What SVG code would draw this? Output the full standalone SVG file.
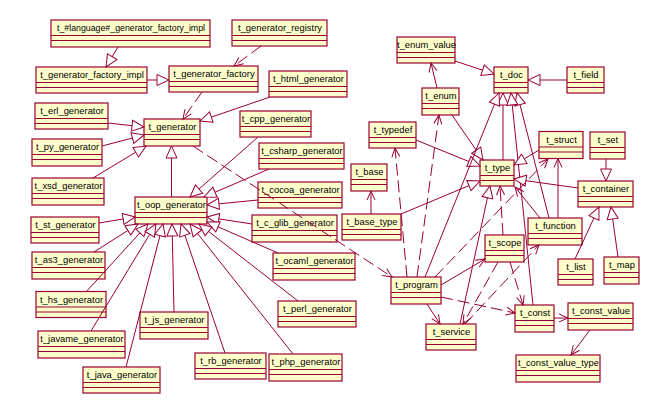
<svg xmlns="http://www.w3.org/2000/svg" width="671" height="414" viewBox="0 0 671 414">
<style>
.node rect{fill:#ffffcc;stroke:#990033;stroke-width:1.2}
.node path{fill:none;stroke:#990033;stroke-width:1.2}
.node text{font-family:"Liberation Sans",Arial,sans-serif;font-size:9.4px;fill:#000;text-anchor:middle}
#edges line{stroke:#990033;stroke-width:1;fill:none}
#edges .gen{marker-end:url(#tri)}
#edges .nav{marker-end:url(#arr)}
#edges .dep{stroke-dasharray:12 5;marker-end:url(#arr)}
</style>
<defs>
<marker id="tri" markerUnits="userSpaceOnUse" viewBox="-1 -1 15 13" markerWidth="15" markerHeight="13" refX="12" refY="5.5" orient="auto"><path d="M0,0 L12,5.5 L0,11 Z" fill="#fff" stroke="#990033" stroke-width="1" stroke-dasharray="none"/></marker>
<marker id="arr" markerUnits="userSpaceOnUse" viewBox="-1 -1 12 10" markerWidth="12" markerHeight="10" refX="9" refY="4" orient="auto"><path d="M0,0 L9,4 L0,8" fill="none" stroke="#990033" stroke-width="1" stroke-dasharray="none"/></marker>
</defs>
<rect width="671" height="414" fill="#fff"/>
<g id="nodes">
<g id="n_lang_impl" class="node"><rect x="51" y="20" width="159" height="27"/><path d="M51,35.5H210M51,40.5H210"/><text x="131" y="31" textLength="148" lengthAdjust="spacingAndGlyphs">t_#language#_generator_factory_impl</text></g>
<g id="n_registry" class="node"><rect x="232" y="20" width="95" height="26"/><path d="M232,35.5H327M232,40.5H327"/><text x="280" y="31">t_generator_registry</text></g>
<g id="n_factory_impl" class="node"><rect x="36" y="67" width="111" height="26"/><path d="M36,82.5H147M36,87.5H147"/><text x="92" y="78">t_generator_factory_impl</text></g>
<g id="n_factory" class="node"><rect x="169" y="66" width="89" height="26"/><path d="M169,81.5H258M169,86.5H258"/><text x="214" y="77">t_generator_factory</text></g>
<g id="n_html" class="node"><rect x="269" y="71" width="78" height="26"/><path d="M269,86.5H347M269,91.5H347"/><text x="308.5" y="82">t_html_generator</text></g>
<g id="n_erl" class="node"><rect x="35" y="103" width="73" height="26"/><path d="M35,118.5H108M35,123.5H108"/><text x="72" y="114">t_erl_generator</text></g>
<g id="n_generator" class="node"><rect x="144" y="119" width="56" height="27"/><path d="M144,134.5H200M144,139.5H200"/><text x="172.5" y="130">t_generator</text></g>
<g id="n_cpp" class="node"><rect x="240" y="111" width="71" height="26"/><path d="M240,126.5H311M240,131.5H311"/><text x="276" y="122">t_cpp_generator</text></g>
<g id="n_py" class="node"><rect x="32" y="139" width="70" height="27"/><path d="M32,154.5H102M32,159.5H102"/><text x="67.5" y="150">t_py_generator</text></g>
<g id="n_xsd" class="node"><rect x="32" y="178" width="72" height="27"/><path d="M32,193.5H104M32,198.5H104"/><text x="68.5" y="189">t_xsd_generator</text></g>
<g id="n_csharp" class="node"><rect x="259" y="143" width="85" height="26"/><path d="M259,158.5H344M259,163.5H344"/><text x="302" y="154">t_csharp_generator</text></g>
<g id="n_cocoa" class="node"><rect x="258" y="182" width="84" height="26"/><path d="M258,197.5H342M258,202.5H342"/><text x="300.5" y="193">t_cocoa_generator</text></g>
<g id="n_oop" class="node"><rect x="135" y="197" width="72" height="27"/><path d="M135,212.5H207M135,217.5H207"/><text x="171.5" y="208">t_oop_generator</text></g>
<g id="n_st" class="node"><rect x="31" y="217" width="68" height="26"/><path d="M31,232.5H99M31,237.5H99"/><text x="65.5" y="228">t_st_generator</text></g>
<g id="n_cglib" class="node"><rect x="252" y="215" width="85" height="27"/><path d="M252,230.5H337M252,235.5H337"/><text x="295" y="226">t_c_glib_generator</text></g>
<g id="n_as3" class="node"><rect x="32" y="252" width="73" height="27"/><path d="M32,267.5H105M32,272.5H105"/><text x="69" y="263">t_as3_generator</text></g>
<g id="n_ocaml" class="node"><rect x="273" y="253" width="82" height="27"/><path d="M273,268.5H355M273,273.5H355"/><text x="314.5" y="264">t_ocaml_generator</text></g>
<g id="n_hs" class="node"><rect x="36" y="291.5" width="70" height="26"/><path d="M36,307H106M36,312H106"/><text x="71.5" y="302.5">t_hs_generator</text></g>
<g id="n_perl" class="node"><rect x="278" y="301" width="78" height="26"/><path d="M278,316.5H356M278,321.5H356"/><text x="317.5" y="312">t_perl_generator</text></g>
<g id="n_js" class="node"><rect x="140" y="312" width="68" height="27"/><path d="M140,327.5H208M140,332.5H208"/><text x="174.5" y="323">t_js_generator</text></g>
<g id="n_javame" class="node"><rect x="38" y="331" width="87" height="27"/><path d="M38,346.5H125M38,351.5H125"/><text x="82" y="342">t_javame_generator</text></g>
<g id="n_rb" class="node"><rect x="195" y="353" width="71" height="26"/><path d="M195,368.5H266M195,373.5H266"/><text x="231" y="364">t_rb_generator</text></g>
<g id="n_php" class="node"><rect x="269" y="354" width="73" height="27"/><path d="M269,369.5H342M269,374.5H342"/><text x="306" y="365">t_php_generator</text></g>
<g id="n_java" class="node"><rect x="83" y="367" width="77" height="26"/><path d="M83,382.5H160M83,387.5H160"/><text x="122" y="378">t_java_generator</text></g>
<g id="n_enum_value" class="node"><rect x="397" y="37" width="58" height="26"/><path d="M397,52.5H455M397,57.5H455"/><text x="426.5" y="48">t_enum_value</text></g>
<g id="n_doc" class="node"><rect x="494" y="67" width="34" height="26"/><path d="M494,82.5H528M494,87.5H528"/><text x="511.5" y="78">t_doc</text></g>
<g id="n_field" class="node"><rect x="567" y="67" width="37" height="26"/><path d="M567,82.5H604M567,87.5H604"/><text x="586" y="78">t_field</text></g>
<g id="n_enum" class="node"><rect x="422" y="88" width="37" height="27"/><path d="M422,103.5H459M422,108.5H459"/><text x="441" y="99">t_enum</text></g>
<g id="n_typedef" class="node"><rect x="369" y="122" width="47" height="26"/><path d="M369,137.5H416M369,142.5H416"/><text x="393" y="133">t_typedef</text></g>
<g id="n_struct" class="node"><rect x="539" y="131.5" width="44" height="27"/><path d="M539,147H583M539,152H583"/><text x="561.5" y="142.5">t_struct</text></g>
<g id="n_set" class="node"><rect x="590" y="132" width="35" height="27"/><path d="M590,147.5H625M590,152.5H625"/><text x="608" y="143">t_set</text></g>
<g id="n_type" class="node"><rect x="480" y="160" width="34" height="26"/><path d="M480,175.5H514M480,180.5H514"/><text x="497.5" y="171">t_type</text></g>
<g id="n_base" class="node"><rect x="351" y="164" width="36" height="27"/><path d="M351,179.5H387M351,184.5H387"/><text x="369.5" y="175">t_base</text></g>
<g id="n_container" class="node"><rect x="578" y="181" width="55" height="26"/><path d="M578,196.5H633M578,201.5H633"/><text x="606" y="192">t_container</text></g>
<g id="n_base_type" class="node"><rect x="342" y="214" width="59" height="26"/><path d="M342,229.5H401M342,234.5H401"/><text x="372" y="225">t_base_type</text></g>
<g id="n_function" class="node"><rect x="528" y="218" width="54" height="27"/><path d="M528,233.5H582M528,238.5H582"/><text x="555.5" y="229">t_function</text></g>
<g id="n_scope" class="node"><rect x="485" y="235" width="39" height="27"/><path d="M485,250.5H524M485,255.5H524"/><text x="505" y="246">t_scope</text></g>
<g id="n_list" class="node"><rect x="558" y="259" width="35" height="26"/><path d="M558,274.5H593M558,279.5H593"/><text x="576" y="270">t_list</text></g>
<g id="n_map" class="node"><rect x="604" y="257" width="35" height="27"/><path d="M604,272.5H639M604,277.5H639"/><text x="622" y="268">t_map</text></g>
<g id="n_program" class="node"><rect x="391" y="277" width="50" height="27"/><path d="M391,292.5H441M391,297.5H441"/><text x="416.5" y="288">t_program</text></g>
<g id="n_service" class="node"><rect x="426" y="324" width="50" height="26"/><path d="M426,339.5H476M426,344.5H476"/><text x="451.5" y="335">t_service</text></g>
<g id="n_const" class="node"><rect x="515" y="305" width="39" height="27"/><path d="M515,320.5H554M515,325.5H554"/><text x="535" y="316">t_const</text></g>
<g id="n_const_value" class="node"><rect x="568" y="303" width="65" height="27"/><path d="M568,318.5H633M568,323.5H633"/><text x="601" y="314">t_const_value</text></g>
<g id="n_const_value_type" class="node"><rect x="516" y="355" width="84" height="27"/><path d="M516,370.5H600M516,375.5H600"/><text x="558.5" y="366">t_const_value_type</text></g>
</g>
<g id="edges">
<line class="gen" x1="118" y1="47" x2="106" y2="67"/>
<line class="gen" x1="147" y1="80" x2="169" y2="80"/>
<line class="gen" x1="270" y1="97" x2="200" y2="121"/>
<line class="gen" x1="108" y1="123" x2="144" y2="127"/>
<line class="gen" x1="102" y1="146" x2="144" y2="135"/>
<line class="gen" x1="93" y1="178" x2="146" y2="146"/>
<line class="gen" x1="171.5" y1="197" x2="171.5" y2="146"/>
<line class="gen" x1="258" y1="137" x2="190" y2="197"/>
<line class="gen" x1="269" y1="169" x2="204" y2="197"/>
<line class="gen" x1="258" y1="200" x2="207" y2="205"/>
<line class="gen" x1="252" y1="224" x2="207" y2="217"/>
<line class="gen" x1="278" y1="253" x2="207" y2="222"/>
<line class="gen" x1="99" y1="223" x2="135" y2="217"/>
<line class="gen" x1="94" y1="252" x2="138" y2="224"/>
<line class="gen" x1="86" y1="292" x2="148" y2="224"/>
<line class="gen" x1="91" y1="331" x2="156" y2="224"/>
<line class="gen" x1="126" y1="367" x2="163" y2="224"/>
<line class="gen" x1="174" y1="312" x2="172" y2="224"/>
<line class="gen" x1="225" y1="353" x2="181" y2="224"/>
<line class="gen" x1="293" y1="354" x2="190" y2="224"/>
<line class="gen" x1="298" y1="301" x2="199" y2="224"/>
<line class="gen" x1="455" y1="61" x2="494" y2="74"/>
<line class="gen" x1="567" y1="80" x2="528" y2="80"/>
<line class="gen" x1="452" y1="115" x2="483" y2="160"/>
<line class="gen" x1="416" y1="140" x2="480" y2="166"/>
<line class="gen" x1="503" y1="160" x2="503" y2="93"/>
<line class="gen" x1="425" y1="277" x2="499" y2="93"/>
<line class="gen" x1="549" y1="218" x2="517" y2="93"/>
<line class="gen" x1="533" y1="305" x2="511" y2="93"/>
<line class="gen" x1="539" y1="150" x2="514" y2="165"/>
<line class="gen" x1="578" y1="188" x2="514" y2="179"/>
<line class="gen" x1="401" y1="214" x2="480" y2="181"/>
<line class="gen" x1="460" y1="324" x2="490" y2="186"/>
<line class="gen" x1="606" y1="159" x2="606" y2="181"/>
<line class="gen" x1="575" y1="259" x2="599" y2="207"/>
<line class="gen" x1="618" y1="257" x2="611" y2="207"/>
<line class="dep" x1="261" y1="46" x2="234" y2="66"/>
<line class="dep" x1="202" y1="92" x2="183" y2="119"/>
<line class="dep" x1="193" y1="146" x2="392" y2="277"/>
<line class="nav" x1="437" y1="88" x2="431" y2="63"/>
<line class="dep" x1="407" y1="277" x2="395" y2="148"/>
<line class="dep" x1="417" y1="277" x2="439" y2="115"/>
<line class="dep" x1="435" y1="277" x2="548" y2="159"/>
<line class="nav" x1="441" y1="285" x2="485" y2="259"/>
<line class="nav" x1="427" y1="304" x2="440" y2="324"/>
<line class="dep" x1="441" y1="297" x2="515" y2="313"/>
<line class="nav" x1="371" y1="214" x2="371" y2="191"/>
<line class="nav" x1="540" y1="218" x2="515" y2="187"/>
<line class="nav" x1="558" y1="218" x2="558" y2="158.5"/>
<line class="dep" x1="465" y1="324" x2="539" y2="245"/>
<line class="dep" x1="503" y1="235" x2="500" y2="186"/>
<line class="dep" x1="510" y1="262" x2="523" y2="305"/>
<line class="dep" x1="498" y1="262" x2="463" y2="324"/>
<line class="nav" x1="554" y1="318" x2="568" y2="318"/>
<line class="nav" x1="590" y1="330" x2="571" y2="355"/>
</g>
</svg>
